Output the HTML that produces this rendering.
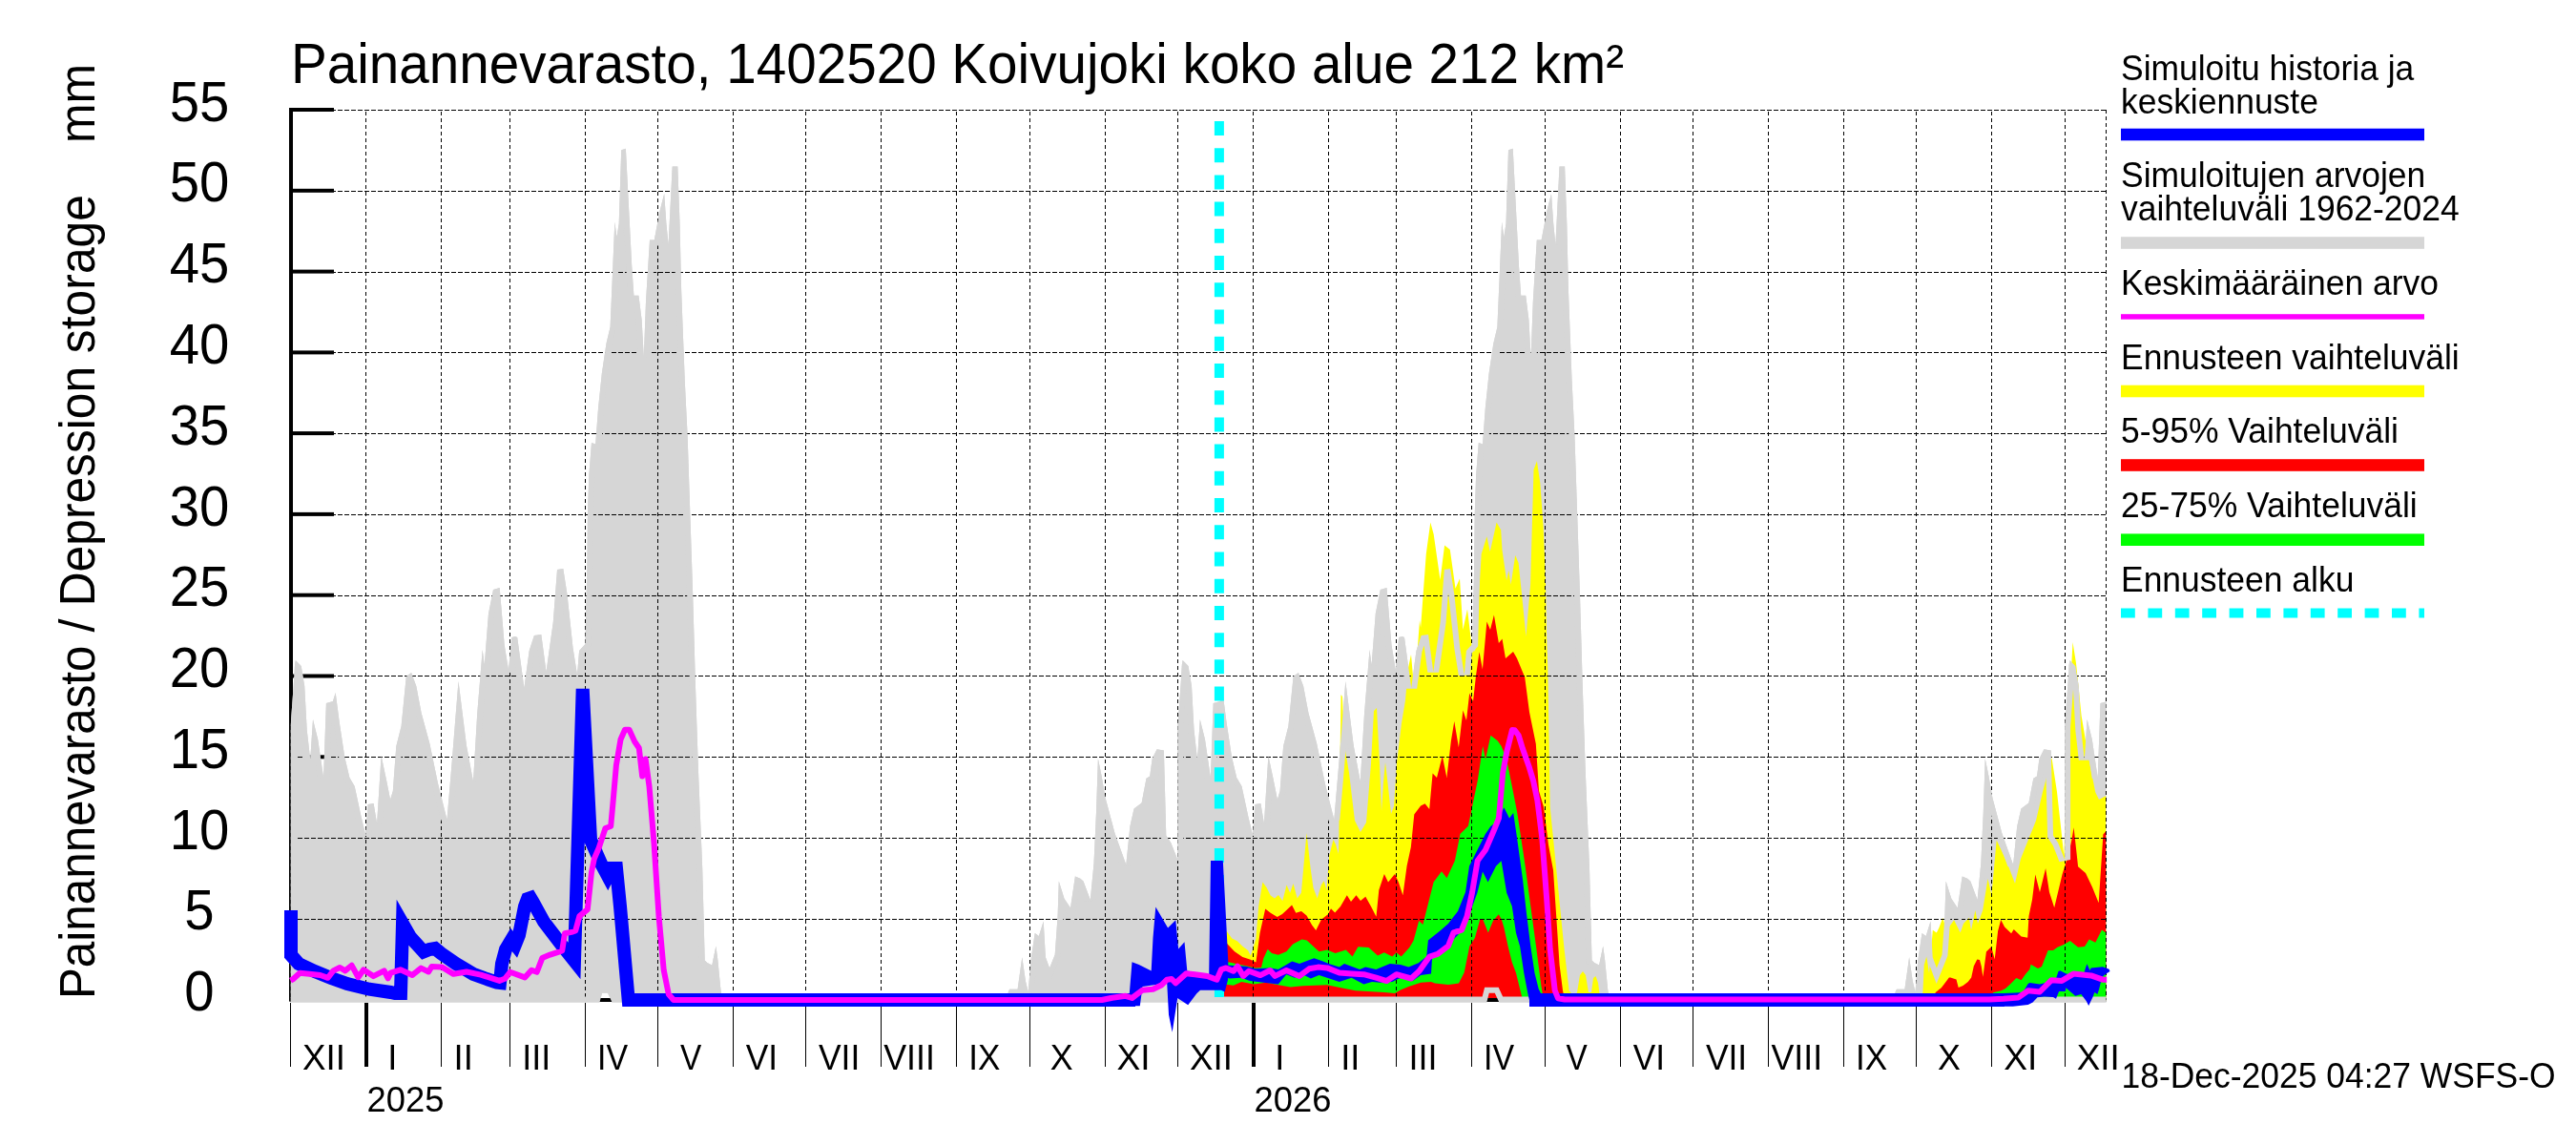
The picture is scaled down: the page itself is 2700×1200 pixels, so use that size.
<!DOCTYPE html><html><head><meta charset="utf-8"><style>html,body{margin:0;padding:0;background:#fff;overflow:hidden}svg{display:block;will-change:transform}text{font-family:"Liberation Sans",Arial,sans-serif;fill:#000}</style></head><body>
<svg width="2700" height="1200" viewBox="0 0 2700 1200">
<defs>
<clipPath id="plot"><rect x="304.5" y="100" width="1903.0" height="960"/></clipPath>
<clipPath id="gc"><polygon points="304.5,901.0 304.5,762.0 308.0,714.0 309.0,697.0 309.8,692.0 315.7,698.0 319.2,719.0 321.7,765.0 325.2,796.0 328.0,754.0 333.2,775.0 339.1,815.0 341.9,737.0 348.9,735.0 351.7,726.0 355.9,758.0 361.2,793.0 366.4,815.0 371.7,824.0 378.6,856.0 383.2,875.0 385.6,843.0 391.6,842.0 395.1,863.0 399.6,792.0 404.9,817.0 409.1,838.0 411.8,829.0 415.3,782.0 420.6,761.0 425.8,709.0 431.1,705.0 436.3,719.0 441.6,747.0 450.3,779.0 459.0,821.0 468.5,859.0 473.4,802.0 480.5,714.0 488.9,781.0 496.0,819.0 500.2,748.0 505.7,681.0 507.8,697.0 512.0,643.0 517.0,618.0 523.7,616.0 528.7,676.0 533.0,702.0 536.3,668.0 540.0,667.0 542.2,668.0 549.4,721.0 554.7,682.0 559.9,666.0 567.3,665.0 572.5,704.0 579.8,652.0 584.0,597.0 590.3,596.0 594.5,623.0 600.5,679.0 605.0,707.0 607.1,682.0 613.4,675.0 615.3,595.5 615.9,540.0 617.3,498.0 620.0,464.0 624.2,465.6 627.0,428.0 630.8,391.6 635.5,360.0 639.6,342.8 642.4,278.0 644.3,232.8 646.5,248.5 648.7,234.3 651.2,157.3 655.9,155.7 662.2,278.4 664.4,309.8 669.4,309.8 672.6,335.0 674.8,374.3 677.0,316.0 681.0,251.6 685.8,251.6 691.4,221.8 696.2,202.9 698.4,234.3 700.6,256.4 704.7,174.6 710.3,174.6 712.5,234.3 714.1,303.5 717.8,400.0 720.6,456.0 723.4,540.0 726.2,623.5 729.0,720.0 732.0,809.0 736.2,910.0 738.7,1006.6 741.3,1009.0 746.3,1011.6 750.4,991.4 752.4,1006.6 755.4,1037.0 756.5,1044.5 757.5,1050.5 1056.0,1050.5 1056.8,1039.6 1058.2,1036.8 1066.6,1036.8 1071.3,1003.2 1075.0,1028.4 1077.7,1039.6 1080.5,1006.0 1084.7,978.0 1088.9,981.0 1093.7,965.5 1095.9,1003.2 1100.1,1014.4 1105.7,1000.4 1108.6,960.0 1109.8,923.5 1115.5,941.7 1122.0,951.6 1126.9,918.6 1132.3,920.7 1135.5,923.5 1142.8,943.0 1146.5,905.0 1149.0,851.3 1150.9,795.0 1154.6,813.0 1158.7,836.6 1168.5,873.3 1180.3,906.3 1184.4,866.0 1188.6,847.6 1196.6,841.5 1201.5,815.8 1205.2,813.4 1207.7,795.0 1212.6,785.2 1219.9,786.4 1222.3,875.7 1227.2,883.1 1232.1,895.3 1234.3,901.0 1234.3,762.0 1237.8,714.0 1238.8,697.0 1239.6,692.0 1245.5,698.0 1249.0,719.0 1251.5,765.0 1255.0,796.0 1257.8,754.0 1263.0,775.0 1268.9,815.0 1271.7,737.0 1278.7,735.0 1281.5,726.0 1285.7,758.0 1291.0,793.0 1296.2,815.0 1301.5,824.0 1308.4,856.0 1313.0,875.0 1315.4,843.0 1321.4,842.0 1324.9,863.0 1329.4,792.0 1334.7,817.0 1338.9,838.0 1341.6,829.0 1345.1,782.0 1350.4,761.0 1355.6,709.0 1360.9,705.0 1366.1,719.0 1371.4,747.0 1380.1,779.0 1388.8,821.0 1398.3,859.0 1403.2,802.0 1410.3,714.0 1418.7,781.0 1425.8,819.0 1430.0,748.0 1435.5,681.0 1437.6,697.0 1441.8,643.0 1446.8,618.0 1453.5,616.0 1458.5,676.0 1462.8,702.0 1466.1,668.0 1469.8,667.0 1472.0,668.0 1479.2,721.0 1484.5,682.0 1489.7,666.0 1497.1,665.0 1502.3,704.0 1509.6,652.0 1513.8,597.0 1520.1,596.0 1524.3,623.0 1530.3,679.0 1534.8,707.0 1536.9,682.0 1543.2,675.0 1545.1,595.5 1545.7,540.0 1547.1,498.0 1549.8,464.0 1554.0,465.6 1556.8,428.0 1560.6,391.6 1565.3,360.0 1569.4,342.8 1572.2,278.0 1574.1,232.8 1576.3,248.5 1578.5,234.3 1581.0,157.3 1585.7,155.7 1592.0,278.4 1594.2,309.8 1599.2,309.8 1602.4,335.0 1604.6,374.3 1606.8,316.0 1610.8,251.6 1615.6,251.6 1621.2,221.8 1626.0,202.9 1628.2,234.3 1630.4,256.4 1634.5,174.6 1640.1,174.6 1642.3,234.3 1643.9,303.5 1647.6,400.0 1650.4,456.0 1653.2,540.0 1656.0,623.5 1658.8,720.0 1661.8,809.0 1666.0,910.0 1668.5,1006.6 1671.1,1009.0 1676.1,1011.6 1680.2,991.4 1682.2,1006.6 1685.2,1037.0 1686.3,1044.5 1687.3,1050.5 1985.8,1050.5 1986.6,1039.6 1988.0,1036.8 1996.4,1036.8 2001.1,1003.2 2004.8,1028.4 2007.5,1039.6 2010.3,1006.0 2014.5,978.0 2018.7,981.0 2023.5,965.5 2025.7,1003.2 2029.9,1014.4 2035.5,1000.4 2038.4,960.0 2039.6,923.5 2045.3,941.7 2051.8,951.6 2056.7,918.6 2062.1,920.7 2065.3,923.5 2072.6,943.0 2076.3,905.0 2078.8,851.3 2080.7,795.0 2084.4,813.0 2088.5,836.6 2098.3,873.3 2110.1,906.3 2114.2,866.0 2118.4,847.6 2126.4,841.5 2131.3,815.8 2135.0,813.4 2137.5,795.0 2142.4,785.2 2149.7,786.4 2152.1,875.7 2157.0,883.1 2161.9,895.3 2164.1,901.0 2164.1,762.0 2167.6,714.0 2168.6,697.0 2169.4,692.0 2175.3,698.0 2178.8,719.0 2181.3,765.0 2184.8,796.0 2187.6,754.0 2192.8,775.0 2198.7,815.0 2201.5,737.0 2208.5,735.0 2211.3,726.0 2215.5,758.0 2216.0,1050.5 1571.3,1050.5 1566.8,1040.7 1560.8,1040.7 1558.3,1050.5 641.5,1050.5 637.0,1040.7 631.0,1040.7 628.5,1050.5 304.5,1050.5"/></clipPath>
</defs>
<rect x="0" y="0" width="2700" height="1200" fill="#fff"/>
<rect x="303" y="113" width="4" height="935" fill="#000"/>
<rect x="303" y="1045.6" width="47" height="4" fill="#000"/>
<rect x="303" y="960.8" width="47" height="4" fill="#000"/>
<rect x="303" y="876.0" width="47" height="4" fill="#000"/>
<rect x="303" y="791.3" width="47" height="4" fill="#000"/>
<rect x="303" y="706.5" width="47" height="4" fill="#000"/>
<rect x="303" y="621.7" width="47" height="4" fill="#000"/>
<rect x="303" y="536.9" width="47" height="4" fill="#000"/>
<rect x="303" y="452.1" width="47" height="4" fill="#000"/>
<rect x="303" y="367.4" width="47" height="4" fill="#000"/>
<rect x="303" y="282.6" width="47" height="4" fill="#000"/>
<rect x="303" y="197.8" width="47" height="4" fill="#000"/>
<rect x="303" y="113.0" width="47" height="4" fill="#000"/>
<g clip-path="url(#plot)">
<polygon points="304.5,901.0 304.5,762.0 308.0,714.0 309.0,697.0 309.8,692.0 315.7,698.0 319.2,719.0 321.7,765.0 325.2,796.0 328.0,754.0 333.2,775.0 339.1,815.0 341.9,737.0 348.9,735.0 351.7,726.0 355.9,758.0 361.2,793.0 366.4,815.0 371.7,824.0 378.6,856.0 383.2,875.0 385.6,843.0 391.6,842.0 395.1,863.0 399.6,792.0 404.9,817.0 409.1,838.0 411.8,829.0 415.3,782.0 420.6,761.0 425.8,709.0 431.1,705.0 436.3,719.0 441.6,747.0 450.3,779.0 459.0,821.0 468.5,859.0 473.4,802.0 480.5,714.0 488.9,781.0 496.0,819.0 500.2,748.0 505.7,681.0 507.8,697.0 512.0,643.0 517.0,618.0 523.7,616.0 528.7,676.0 533.0,702.0 536.3,668.0 540.0,667.0 542.2,668.0 549.4,721.0 554.7,682.0 559.9,666.0 567.3,665.0 572.5,704.0 579.8,652.0 584.0,597.0 590.3,596.0 594.5,623.0 600.5,679.0 605.0,707.0 607.1,682.0 613.4,675.0 615.3,595.5 615.9,540.0 617.3,498.0 620.0,464.0 624.2,465.6 627.0,428.0 630.8,391.6 635.5,360.0 639.6,342.8 642.4,278.0 644.3,232.8 646.5,248.5 648.7,234.3 651.2,157.3 655.9,155.7 662.2,278.4 664.4,309.8 669.4,309.8 672.6,335.0 674.8,374.3 677.0,316.0 681.0,251.6 685.8,251.6 691.4,221.8 696.2,202.9 698.4,234.3 700.6,256.4 704.7,174.6 710.3,174.6 712.5,234.3 714.1,303.5 717.8,400.0 720.6,456.0 723.4,540.0 726.2,623.5 729.0,720.0 732.0,809.0 736.2,910.0 738.7,1006.6 741.3,1009.0 746.3,1011.6 750.4,991.4 752.4,1006.6 755.4,1037.0 756.5,1044.5 757.5,1050.5 1056.0,1050.5 1056.8,1039.6 1058.2,1036.8 1066.6,1036.8 1071.3,1003.2 1075.0,1028.4 1077.7,1039.6 1080.5,1006.0 1084.7,978.0 1088.9,981.0 1093.7,965.5 1095.9,1003.2 1100.1,1014.4 1105.7,1000.4 1108.6,960.0 1109.8,923.5 1115.5,941.7 1122.0,951.6 1126.9,918.6 1132.3,920.7 1135.5,923.5 1142.8,943.0 1146.5,905.0 1149.0,851.3 1150.9,795.0 1154.6,813.0 1158.7,836.6 1168.5,873.3 1180.3,906.3 1184.4,866.0 1188.6,847.6 1196.6,841.5 1201.5,815.8 1205.2,813.4 1207.7,795.0 1212.6,785.2 1219.9,786.4 1222.3,875.7 1227.2,883.1 1232.1,895.3 1234.3,901.0 1234.3,762.0 1237.8,714.0 1238.8,697.0 1239.6,692.0 1245.5,698.0 1249.0,719.0 1251.5,765.0 1255.0,796.0 1257.8,754.0 1263.0,775.0 1268.9,815.0 1271.7,737.0 1278.7,735.0 1281.5,726.0 1285.7,758.0 1291.0,793.0 1296.2,815.0 1301.5,824.0 1308.4,856.0 1313.0,875.0 1315.4,843.0 1321.4,842.0 1324.9,863.0 1329.4,792.0 1334.7,817.0 1338.9,838.0 1341.6,829.0 1345.1,782.0 1350.4,761.0 1355.6,709.0 1360.9,705.0 1366.1,719.0 1371.4,747.0 1380.1,779.0 1388.8,821.0 1398.3,859.0 1403.2,802.0 1410.3,714.0 1418.7,781.0 1425.8,819.0 1430.0,748.0 1435.5,681.0 1437.6,697.0 1441.8,643.0 1446.8,618.0 1453.5,616.0 1458.5,676.0 1462.8,702.0 1466.1,668.0 1469.8,667.0 1472.0,668.0 1479.2,721.0 1484.5,682.0 1489.7,666.0 1497.1,665.0 1502.3,704.0 1509.6,652.0 1513.8,597.0 1520.1,596.0 1524.3,623.0 1530.3,679.0 1534.8,707.0 1536.9,682.0 1543.2,675.0 1545.1,595.5 1545.7,540.0 1547.1,498.0 1549.8,464.0 1554.0,465.6 1556.8,428.0 1560.6,391.6 1565.3,360.0 1569.4,342.8 1572.2,278.0 1574.1,232.8 1576.3,248.5 1578.5,234.3 1581.0,157.3 1585.7,155.7 1592.0,278.4 1594.2,309.8 1599.2,309.8 1602.4,335.0 1604.6,374.3 1606.8,316.0 1610.8,251.6 1615.6,251.6 1621.2,221.8 1626.0,202.9 1628.2,234.3 1630.4,256.4 1634.5,174.6 1640.1,174.6 1642.3,234.3 1643.9,303.5 1647.6,400.0 1650.4,456.0 1653.2,540.0 1656.0,623.5 1658.8,720.0 1661.8,809.0 1666.0,910.0 1668.5,1006.6 1671.1,1009.0 1676.1,1011.6 1680.2,991.4 1682.2,1006.6 1685.2,1037.0 1686.3,1044.5 1687.3,1050.5 1985.8,1050.5 1986.6,1039.6 1988.0,1036.8 1996.4,1036.8 2001.1,1003.2 2004.8,1028.4 2007.5,1039.6 2010.3,1006.0 2014.5,978.0 2018.7,981.0 2023.5,965.5 2025.7,1003.2 2029.9,1014.4 2035.5,1000.4 2038.4,960.0 2039.6,923.5 2045.3,941.7 2051.8,951.6 2056.7,918.6 2062.1,920.7 2065.3,923.5 2072.6,943.0 2076.3,905.0 2078.8,851.3 2080.7,795.0 2084.4,813.0 2088.5,836.6 2098.3,873.3 2110.1,906.3 2114.2,866.0 2118.4,847.6 2126.4,841.5 2131.3,815.8 2135.0,813.4 2137.5,795.0 2142.4,785.2 2149.7,786.4 2152.1,875.7 2157.0,883.1 2161.9,895.3 2164.1,901.0 2164.1,762.0 2167.6,714.0 2168.6,697.0 2169.4,692.0 2175.3,698.0 2178.8,719.0 2181.3,765.0 2184.8,796.0 2187.6,754.0 2192.8,775.0 2198.7,815.0 2201.5,737.0 2208.5,735.0 2211.3,726.0 2215.5,758.0 2216.0,1050.5 1571.3,1050.5 1566.8,1040.7 1560.8,1040.7 1558.3,1050.5 641.5,1050.5 637.0,1040.7 631.0,1040.7 628.5,1050.5 304.5,1050.5" fill="#d6d6d6"/>
<polygon points="1283.0,974.0 1286.2,976.4 1291.2,983.4 1296.8,986.2 1302.4,991.7 1308.0,996.0 1310.8,1001.5 1313.0,995.0 1316.4,983.4 1319.2,949.8 1323.4,924.6 1327.6,930.2 1331.7,938.6 1336.0,941.4 1340.0,938.0 1344.3,944.2 1348.5,927.4 1352.2,935.8 1355.5,926.0 1359.7,941.4 1363.9,935.8 1369.5,872.9 1373.7,910.6 1376.5,930.2 1380.7,941.4 1384.9,927.4 1387.7,923.2 1390.5,933.0 1393.3,896.6 1397.5,879.9 1400.0,885.0 1403.0,895.0 1404.5,800.0 1405.5,728.0 1407.0,730.0 1409.0,780.0 1414.0,810.0 1420.0,860.0 1426.0,872.0 1432.0,862.0 1437.0,800.0 1440.0,745.0 1443.0,742.0 1446.0,800.0 1448.0,850.0 1450.0,820.0 1452.0,799.0 1455.0,825.0 1458.0,853.0 1461.0,845.0 1464.0,800.0 1469.0,758.0 1473.0,734.0 1476.0,700.0 1479.0,686.0 1482.0,720.0 1485.0,690.0 1488.0,650.0 1489.1,657.7 1494.8,580.5 1499.3,547.5 1502.7,560.0 1509.5,607.7 1514.1,571.4 1519.8,575.9 1525.5,616.8 1530.0,606.6 1533.4,660.0 1538.0,638.4 1542.5,676.0 1546.0,683.0 1548.0,660.0 1552.7,580.5 1558.4,562.3 1561.8,578.2 1568.6,547.5 1573.2,555.5 1574.5,576.4 1579.1,608.2 1581.4,598.0 1583.6,612.7 1588.2,582.0 1591.6,590.0 1596.1,633.2 1599.5,667.3 1604.1,612.7 1607.5,492.3 1610.9,483.2 1614.3,505.9 1617.7,553.6 1620.0,610.5 1621.1,667.3 1622.3,700.0 1624.7,845.7 1629.7,895.4 1634.6,945.2 1639.6,994.9 1644.6,1038.0 1650.0,1045.0 1653.0,1040.0 1656.0,1022.0 1659.0,1018.0 1662.0,1022.0 1665.0,1040.0 1668.0,1040.0 1670.0,1025.0 1672.5,1023.0 1675.0,1030.0 1677.0,1045.0 1680.0,1048.0 1680.0,1048.5 1283.0,1048.5" fill="#ffff00"/>
<polygon points="1283.0,989.0 1286.2,989.0 1294.0,997.3 1302.4,1003.0 1310.8,1005.7 1316.4,1008.5 1320.6,977.8 1326.2,952.6 1331.7,956.8 1338.7,961.0 1344.0,958.0 1349.9,952.6 1354.1,948.4 1358.3,956.8 1364.0,955.0 1369.5,959.6 1375.1,969.4 1379.3,975.0 1384.9,963.8 1391.9,958.2 1395.0,952.3 1399.2,956.5 1405.0,950.0 1411.8,938.3 1416.0,945.0 1421.5,938.3 1426.0,944.0 1431.3,939.7 1437.0,950.0 1442.5,960.7 1445.3,932.7 1450.9,916.0 1455.0,924.4 1462.0,916.0 1466.0,925.0 1470.4,938.3 1474.6,907.6 1478.8,888.0 1482.3,853.6 1489.1,844.5 1493.6,842.3 1498.2,848.0 1501.6,810.5 1506.0,815.0 1511.8,792.3 1516.4,815.0 1520.9,776.4 1524.3,756.0 1528.9,783.2 1533.4,744.5 1537.0,755.0 1540.2,726.4 1544.0,735.0 1547.0,708.2 1550.5,683.2 1553.9,701.4 1558.4,651.4 1562.0,660.0 1565.9,644.5 1570.9,674.1 1574.5,669.5 1578.0,690.0 1586.0,683.0 1590.0,690.0 1598.2,709.8 1603.0,746.3 1609.8,779.4 1613.0,829.0 1618.0,845.7 1623.0,885.5 1628.0,912.0 1631.3,961.7 1634.6,1011.5 1638.0,1038.0 1640.0,1048.0 1640.0,1048.5 1283.0,1048.5" fill="#ff0000"/>
<polygon points="1283.0,1008.0 1288.5,1008.4 1295.4,1010.1 1305.0,1012.0 1316.0,1014.4 1322.0,1014.0 1324.4,1004.2 1328.7,994.8 1333.0,999.0 1339.8,1000.7 1348.3,997.3 1355.1,989.6 1364.5,984.5 1369.7,985.4 1382.5,997.3 1391.0,995.6 1399.6,999.0 1410.7,995.6 1417.5,1002.5 1423.5,992.2 1434.6,993.1 1444.0,1001.6 1450.8,998.2 1459.3,1002.5 1463.6,998.2 1468.7,1002.5 1477.3,993.1 1481.6,985.8 1487.2,964.9 1491.4,969.0 1495.6,952.3 1502.6,924.4 1511.0,913.2 1516.5,920.2 1524.9,902.0 1530.5,874.1 1538.9,865.7 1548.7,818.2 1554.2,781.9 1557.0,795.9 1562.4,770.8 1569.6,776.3 1573.6,782.0 1579.2,796.0 1584.8,823.9 1590.3,851.9 1598.7,907.8 1604.3,949.8 1610.0,991.7 1615.5,1033.7 1618.0,1048.0 1596.0,1048.0 1593.1,1036.5 1589.0,1019.7 1584.8,1008.5 1580.6,991.7 1576.4,972.2 1573.8,963.5 1570.8,958.2 1565.0,965.0 1559.8,977.4 1554.2,963.5 1551.2,963.8 1545.9,983.0 1540.3,991.4 1534.7,1019.3 1529.0,1030.5 1518.0,1032.0 1504.0,1030.5 1500.0,1028.9 1489.2,1029.8 1476.4,1034.0 1467.9,1037.5 1461.9,1040.9 1450.8,1040.0 1438.0,1039.2 1420.9,1038.3 1408.1,1035.8 1391.0,1032.3 1365.4,1033.2 1352.6,1034.5 1339.8,1032.3 1327.0,1029.8 1314.2,1031.5 1301.3,1028.9 1292.8,1032.8 1283.0,1031.5" fill="#00ff00"/>
<polygon points="2012.0,1048.0 2015.4,1040.3 2016.7,1011.5 2019.3,1002.3 2022.0,1020.0 2025.8,974.8 2029.8,977.4 2032.4,972.2 2036.3,961.7 2040.0,975.0 2044.0,970.0 2048.1,964.3 2054.7,977.4 2058.0,968.0 2063.8,961.7 2066.0,975.0 2070.4,953.9 2073.0,968.0 2078.2,953.9 2083.5,921.1 2087.4,938.1 2092.7,880.5 2100.0,896.2 2104.0,905.0 2112.0,926.0 2118.0,900.0 2126.0,880.0 2134.0,860.0 2141.0,830.0 2150.5,794.0 2156.0,830.0 2163.3,896.6 2168.0,760.0 2172.5,673.0 2176.0,695.0 2181.6,750.0 2189.0,794.0 2196.3,830.6 2200.0,838.0 2207.5,834.0 2207.5,1048.5 2012.0,1048.5" fill="#ffff00"/>
<polygon points="2028.5,1048.0 2028.5,1040.3 2035.0,1035.0 2042.9,1024.6 2044.4,1024.6 2050.5,1026.4 2052.7,1035.1 2057.5,1032.9 2062.7,1029.0 2066.2,1024.6 2068.8,1012.4 2072.3,1005.4 2075.0,1006.0 2076.7,1012.4 2078.4,1023.8 2081.9,997.6 2087.2,992.3 2090.7,1005.4 2094.1,975.7 2097.2,963.9 2101.1,971.4 2108.1,978.3 2110.7,974.0 2118.6,981.4 2125.2,982.7 2126.5,960.0 2130.0,943.0 2133.3,916.5 2138.0,935.0 2144.1,909.9 2148.0,935.0 2153.2,951.3 2161.5,916.5 2168.1,894.9 2171.5,880.0 2173.6,867.3 2178.1,908.2 2186.0,915.0 2193.0,929.8 2199.7,946.3 2204.4,874.6 2207.5,871.0 2207.5,1048.5 2028.5,1048.5" fill="#ff0000"/>
<polygon points="2088.9,1048.0 2088.9,1040.3 2097.6,1038.2 2102.0,1036.0 2107.2,1031.2 2113.4,1025.1 2118.6,1027.2 2123.0,1021.1 2127.3,1015.9 2128.6,1010.7 2136.1,1015.0 2140.0,1013.0 2146.6,996.0 2152.0,996.0 2156.5,992.8 2163.0,990.0 2169.8,986.1 2178.1,992.8 2185.0,992.0 2189.7,984.5 2196.3,987.8 2203.0,974.5 2207.5,977.8 2207.5,1048.5 2088.9,1048.5" fill="#00ff00"/>
<rect x="304" y="1046" width="1903.5" height="4" fill="#000"/>
</g>
<g><line x1="305" y1="1048.5" x2="2207.5" y2="1048.5" stroke="#000" stroke-width="1" stroke-dasharray="5,2"/><line x1="305" y1="963.5" x2="2207.5" y2="963.5" stroke="#000" stroke-width="1" stroke-dasharray="5,2"/><line x1="305" y1="878.5" x2="2207.5" y2="878.5" stroke="#000" stroke-width="1" stroke-dasharray="5,2"/><line x1="305" y1="793.5" x2="2207.5" y2="793.5" stroke="#000" stroke-width="1" stroke-dasharray="5,2"/><line x1="305" y1="708.5" x2="2207.5" y2="708.5" stroke="#000" stroke-width="1" stroke-dasharray="5,2"/><line x1="305" y1="624.5" x2="2207.5" y2="624.5" stroke="#000" stroke-width="1" stroke-dasharray="5,2"/><line x1="305" y1="539.5" x2="2207.5" y2="539.5" stroke="#000" stroke-width="1" stroke-dasharray="5,2"/><line x1="305" y1="454.5" x2="2207.5" y2="454.5" stroke="#000" stroke-width="1" stroke-dasharray="5,2"/><line x1="305" y1="369.5" x2="2207.5" y2="369.5" stroke="#000" stroke-width="1" stroke-dasharray="5,2"/><line x1="305" y1="285.5" x2="2207.5" y2="285.5" stroke="#000" stroke-width="1" stroke-dasharray="5,2"/><line x1="305" y1="200.5" x2="2207.5" y2="200.5" stroke="#000" stroke-width="1" stroke-dasharray="5,2"/><line x1="305" y1="115.5" x2="2207.5" y2="115.5" stroke="#000" stroke-width="1" stroke-dasharray="5,2"/><line x1="304.5" y1="117" x2="304.5" y2="1048" stroke="#000" stroke-width="1" stroke-dasharray="4,3"/><line x1="383.5" y1="117" x2="383.5" y2="1048" stroke="#000" stroke-width="1" stroke-dasharray="4,3"/><line x1="462.5" y1="117" x2="462.5" y2="1048" stroke="#000" stroke-width="1" stroke-dasharray="4,3"/><line x1="534.5" y1="117" x2="534.5" y2="1048" stroke="#000" stroke-width="1" stroke-dasharray="4,3"/><line x1="613.5" y1="117" x2="613.5" y2="1048" stroke="#000" stroke-width="1" stroke-dasharray="4,3"/><line x1="689.5" y1="117" x2="689.5" y2="1048" stroke="#000" stroke-width="1" stroke-dasharray="4,3"/><line x1="768.5" y1="117" x2="768.5" y2="1048" stroke="#000" stroke-width="1" stroke-dasharray="4,3"/><line x1="844.5" y1="117" x2="844.5" y2="1048" stroke="#000" stroke-width="1" stroke-dasharray="4,3"/><line x1="923.5" y1="117" x2="923.5" y2="1048" stroke="#000" stroke-width="1" stroke-dasharray="4,3"/><line x1="1002.5" y1="117" x2="1002.5" y2="1048" stroke="#000" stroke-width="1" stroke-dasharray="4,3"/><line x1="1079.5" y1="117" x2="1079.5" y2="1048" stroke="#000" stroke-width="1" stroke-dasharray="4,3"/><line x1="1158.5" y1="117" x2="1158.5" y2="1048" stroke="#000" stroke-width="1" stroke-dasharray="4,3"/><line x1="1234.5" y1="117" x2="1234.5" y2="1048" stroke="#000" stroke-width="1" stroke-dasharray="4,3"/><line x1="1313.5" y1="117" x2="1313.5" y2="1048" stroke="#000" stroke-width="1" stroke-dasharray="4,3"/><line x1="1392.5" y1="117" x2="1392.5" y2="1048" stroke="#000" stroke-width="1" stroke-dasharray="4,3"/><line x1="1463.5" y1="117" x2="1463.5" y2="1048" stroke="#000" stroke-width="1" stroke-dasharray="4,3"/><line x1="1542.5" y1="117" x2="1542.5" y2="1048" stroke="#000" stroke-width="1" stroke-dasharray="4,3"/><line x1="1619.5" y1="117" x2="1619.5" y2="1048" stroke="#000" stroke-width="1" stroke-dasharray="4,3"/><line x1="1698.5" y1="117" x2="1698.5" y2="1048" stroke="#000" stroke-width="1" stroke-dasharray="4,3"/><line x1="1774.5" y1="117" x2="1774.5" y2="1048" stroke="#000" stroke-width="1" stroke-dasharray="4,3"/><line x1="1853.5" y1="117" x2="1853.5" y2="1048" stroke="#000" stroke-width="1" stroke-dasharray="4,3"/><line x1="1932.5" y1="117" x2="1932.5" y2="1048" stroke="#000" stroke-width="1" stroke-dasharray="4,3"/><line x1="2008.5" y1="117" x2="2008.5" y2="1048" stroke="#000" stroke-width="1" stroke-dasharray="4,3"/><line x1="2087.5" y1="117" x2="2087.5" y2="1048" stroke="#000" stroke-width="1" stroke-dasharray="4,3"/><line x1="2164.5" y1="117" x2="2164.5" y2="1048" stroke="#000" stroke-width="1" stroke-dasharray="4,3"/><line x1="2207.5" y1="115" x2="2207.5" y2="1048" stroke="#000" stroke-width="1" stroke-dasharray="4,3"/></g>
<g clip-path="url(#plot)"><g clip-path="url(#gc)"><polygon points="304.5,901.0 304.5,762.0 308.0,714.0 309.0,697.0 309.8,692.0 315.7,698.0 319.2,719.0 321.7,765.0 325.2,796.0 328.0,754.0 333.2,775.0 339.1,815.0 341.9,737.0 348.9,735.0 351.7,726.0 355.9,758.0 361.2,793.0 366.4,815.0 371.7,824.0 378.6,856.0 383.2,875.0 385.6,843.0 391.6,842.0 395.1,863.0 399.6,792.0 404.9,817.0 409.1,838.0 411.8,829.0 415.3,782.0 420.6,761.0 425.8,709.0 431.1,705.0 436.3,719.0 441.6,747.0 450.3,779.0 459.0,821.0 468.5,859.0 473.4,802.0 480.5,714.0 488.9,781.0 496.0,819.0 500.2,748.0 505.7,681.0 507.8,697.0 512.0,643.0 517.0,618.0 523.7,616.0 528.7,676.0 533.0,702.0 536.3,668.0 540.0,667.0 542.2,668.0 549.4,721.0 554.7,682.0 559.9,666.0 567.3,665.0 572.5,704.0 579.8,652.0 584.0,597.0 590.3,596.0 594.5,623.0 600.5,679.0 605.0,707.0 607.1,682.0 613.4,675.0 615.3,595.5 615.9,540.0 617.3,498.0 620.0,464.0 624.2,465.6 627.0,428.0 630.8,391.6 635.5,360.0 639.6,342.8 642.4,278.0 644.3,232.8 646.5,248.5 648.7,234.3 651.2,157.3 655.9,155.7 662.2,278.4 664.4,309.8 669.4,309.8 672.6,335.0 674.8,374.3 677.0,316.0 681.0,251.6 685.8,251.6 691.4,221.8 696.2,202.9 698.4,234.3 700.6,256.4 704.7,174.6 710.3,174.6 712.5,234.3 714.1,303.5 717.8,400.0 720.6,456.0 723.4,540.0 726.2,623.5 729.0,720.0 732.0,809.0 736.2,910.0 738.7,1006.6 741.3,1009.0 746.3,1011.6 750.4,991.4 752.4,1006.6 755.4,1037.0 756.5,1044.5 757.5,1050.5 1056.0,1050.5 1056.8,1039.6 1058.2,1036.8 1066.6,1036.8 1071.3,1003.2 1075.0,1028.4 1077.7,1039.6 1080.5,1006.0 1084.7,978.0 1088.9,981.0 1093.7,965.5 1095.9,1003.2 1100.1,1014.4 1105.7,1000.4 1108.6,960.0 1109.8,923.5 1115.5,941.7 1122.0,951.6 1126.9,918.6 1132.3,920.7 1135.5,923.5 1142.8,943.0 1146.5,905.0 1149.0,851.3 1150.9,795.0 1154.6,813.0 1158.7,836.6 1168.5,873.3 1180.3,906.3 1184.4,866.0 1188.6,847.6 1196.6,841.5 1201.5,815.8 1205.2,813.4 1207.7,795.0 1212.6,785.2 1219.9,786.4 1222.3,875.7 1227.2,883.1 1232.1,895.3 1234.3,901.0 1234.3,762.0 1237.8,714.0 1238.8,697.0 1239.6,692.0 1245.5,698.0 1249.0,719.0 1251.5,765.0 1255.0,796.0 1257.8,754.0 1263.0,775.0 1268.9,815.0 1271.7,737.0 1278.7,735.0 1281.5,726.0 1285.7,758.0 1291.0,793.0 1296.2,815.0 1301.5,824.0 1308.4,856.0 1313.0,875.0 1315.4,843.0 1321.4,842.0 1324.9,863.0 1329.4,792.0 1334.7,817.0 1338.9,838.0 1341.6,829.0 1345.1,782.0 1350.4,761.0 1355.6,709.0 1360.9,705.0 1366.1,719.0 1371.4,747.0 1380.1,779.0 1388.8,821.0 1398.3,859.0 1403.2,802.0 1410.3,714.0 1418.7,781.0 1425.8,819.0 1430.0,748.0 1435.5,681.0 1437.6,697.0 1441.8,643.0 1446.8,618.0 1453.5,616.0 1458.5,676.0 1462.8,702.0 1466.1,668.0 1469.8,667.0 1472.0,668.0 1479.2,721.0 1484.5,682.0 1489.7,666.0 1497.1,665.0 1502.3,704.0 1509.6,652.0 1513.8,597.0 1520.1,596.0 1524.3,623.0 1530.3,679.0 1534.8,707.0 1536.9,682.0 1543.2,675.0 1545.1,595.5 1545.7,540.0 1547.1,498.0 1549.8,464.0 1554.0,465.6 1556.8,428.0 1560.6,391.6 1565.3,360.0 1569.4,342.8 1572.2,278.0 1574.1,232.8 1576.3,248.5 1578.5,234.3 1581.0,157.3 1585.7,155.7 1592.0,278.4 1594.2,309.8 1599.2,309.8 1602.4,335.0 1604.6,374.3 1606.8,316.0 1610.8,251.6 1615.6,251.6 1621.2,221.8 1626.0,202.9 1628.2,234.3 1630.4,256.4 1634.5,174.6 1640.1,174.6 1642.3,234.3 1643.9,303.5 1647.6,400.0 1650.4,456.0 1653.2,540.0 1656.0,623.5 1658.8,720.0 1661.8,809.0 1666.0,910.0 1668.5,1006.6 1671.1,1009.0 1676.1,1011.6 1680.2,991.4 1682.2,1006.6 1685.2,1037.0 1686.3,1044.5 1687.3,1050.5 1985.8,1050.5 1986.6,1039.6 1988.0,1036.8 1996.4,1036.8 2001.1,1003.2 2004.8,1028.4 2007.5,1039.6 2010.3,1006.0 2014.5,978.0 2018.7,981.0 2023.5,965.5 2025.7,1003.2 2029.9,1014.4 2035.5,1000.4 2038.4,960.0 2039.6,923.5 2045.3,941.7 2051.8,951.6 2056.7,918.6 2062.1,920.7 2065.3,923.5 2072.6,943.0 2076.3,905.0 2078.8,851.3 2080.7,795.0 2084.4,813.0 2088.5,836.6 2098.3,873.3 2110.1,906.3 2114.2,866.0 2118.4,847.6 2126.4,841.5 2131.3,815.8 2135.0,813.4 2137.5,795.0 2142.4,785.2 2149.7,786.4 2152.1,875.7 2157.0,883.1 2161.9,895.3 2164.1,901.0 2164.1,762.0 2167.6,714.0 2168.6,697.0 2169.4,692.0 2175.3,698.0 2178.8,719.0 2181.3,765.0 2184.8,796.0 2187.6,754.0 2192.8,775.0 2198.7,815.0 2201.5,737.0 2208.5,735.0 2211.3,726.0 2215.5,758.0 2216.0,1050.5 1571.3,1050.5 1566.8,1040.7 1560.8,1040.7 1558.3,1050.5 641.5,1050.5 637.0,1040.7 631.0,1040.7 628.5,1050.5 304.5,1050.5" fill="none" stroke="#d6d6d6" stroke-width="12" stroke-linejoin="miter"/></g></g>
<rect x="304" y="1051" width="1" height="67" fill="#000"/>
<rect x="382" y="1051" width="4" height="67" fill="#000"/>
<rect x="462" y="1051" width="1" height="67" fill="#000"/>
<rect x="534" y="1051" width="1" height="67" fill="#000"/>
<rect x="613" y="1051" width="1" height="67" fill="#000"/>
<rect x="689" y="1051" width="1" height="67" fill="#000"/>
<rect x="768" y="1051" width="1" height="67" fill="#000"/>
<rect x="844" y="1051" width="1" height="67" fill="#000"/>
<rect x="923" y="1051" width="1" height="67" fill="#000"/>
<rect x="1002" y="1051" width="1" height="67" fill="#000"/>
<rect x="1079" y="1051" width="1" height="67" fill="#000"/>
<rect x="1158" y="1051" width="1" height="67" fill="#000"/>
<rect x="1234" y="1051" width="1" height="67" fill="#000"/>
<rect x="1312" y="1051" width="4" height="67" fill="#000"/>
<rect x="1392" y="1051" width="1" height="67" fill="#000"/>
<rect x="1463" y="1051" width="1" height="67" fill="#000"/>
<rect x="1542" y="1051" width="1" height="67" fill="#000"/>
<rect x="1619" y="1051" width="1" height="67" fill="#000"/>
<rect x="1698" y="1051" width="1" height="67" fill="#000"/>
<rect x="1774" y="1051" width="1" height="67" fill="#000"/>
<rect x="1853" y="1051" width="1" height="67" fill="#000"/>
<rect x="1932" y="1051" width="1" height="67" fill="#000"/>
<rect x="2008" y="1051" width="1" height="67" fill="#000"/>
<rect x="2087" y="1051" width="1" height="67" fill="#000"/>
<rect x="2164" y="1051" width="1" height="67" fill="#000"/>
<line x1="1277.9" y1="1045" x2="1277.9" y2="127" stroke="#00ffff" stroke-width="10" stroke-dasharray="15,13.22" stroke-dashoffset="0"/>
<polyline points="305.0,954.0 305.0,1001.0 313.0,1010.0 330.0,1018.0 347.0,1025.0 364.0,1031.0 387.0,1036.7 409.5,1040.0 414.0,1041.0 420.0,1041.0 422.0,968.0 430.0,982.0 444.0,997.5 450.0,995.0 456.0,994.0 462.0,999.0 478.0,1010.0 496.0,1020.8 510.0,1026.0 520.7,1029.6 524.0,1030.0 526.0,1010.0 530.0,995.0 536.0,985.0 540.0,990.0 544.0,980.0 547.0,965.0 550.0,950.0 553.0,942.0 556.0,941.0 559.0,946.0 570.0,966.0 588.0,989.5 602.0,1007.0 610.7,722.0 619.0,880.0 630.0,905.0 637.0,918.0 641.0,910.0 646.0,910.0 650.0,950.0 658.7,1048.0 1190.0,1048.0" fill="none" stroke="#0000ff" stroke-width="14" stroke-linejoin="miter" stroke-miterlimit="12"/>
<polygon points="1183.8,1041.3 1186.5,1008.3 1193.8,1011.1 1206.7,1017.5 1208.5,982.7 1211.3,950.6 1224.1,972.6 1232.3,964.3 1235.1,994.6 1241.5,987.3 1244.3,1017.5 1254.3,1019.3 1267.2,1021.2 1269.0,902.0 1281.8,902.0 1285.5,971.7 1287.3,1008.3 1287.0,1027.0 1283.7,1039.5 1280.0,1037.7 1258.0,1037.7 1254.3,1041.3 1245.2,1053.3 1234.2,1045.9 1228.7,1081.7 1225.0,1063.4 1223.2,1030.3 1197.5,1034.0 1194.8,1054.2 1183.8,1054.2" fill="#0000ff"/>
<polygon points="1283.0,1011.0 1288.5,1011.8 1305.6,1012.7 1315.9,1015.3 1331.2,1014.4 1339.8,1016.1 1354.3,1007.6 1362.0,1010.1 1370.5,1006.7 1377.4,1004.2 1386.7,1007.6 1392.7,1010.1 1403.8,1013.6 1409.0,1010.1 1425.2,1016.1 1431.2,1013.6 1442.3,1016.1 1456.8,1010.1 1467.9,1011.0 1476.4,1013.6 1486.7,1009.3 1495.2,1002.5 1496.9,985.4 1510.0,975.0 1518.0,968.0 1528.0,955.0 1536.0,935.0 1540.0,907.8 1548.4,891.0 1556.8,874.3 1562.4,865.9 1568.0,862.0 1573.6,851.9 1576.4,846.3 1582.0,857.5 1586.2,851.9 1590.3,879.9 1596.0,921.8 1600.1,958.2 1604.3,991.7 1608.5,1019.7 1612.7,1036.5 1615.0,1041.0 1603.0,1048.0 1601.5,1042.0 1597.3,1019.7 1593.1,991.7 1589.0,977.8 1584.8,949.8 1579.2,935.8 1576.4,919.0 1573.6,902.2 1568.0,907.8 1559.6,924.6 1554.0,913.4 1548.4,935.8 1540.0,958.2 1536.0,968.0 1528.0,980.0 1518.0,990.0 1510.0,995.0 1501.0,1005.0 1500.0,1020.4 1489.2,1022.1 1480.7,1028.1 1467.9,1024.7 1459.3,1028.9 1446.5,1029.8 1438.0,1028.9 1429.4,1031.5 1416.6,1024.7 1403.8,1028.9 1391.0,1024.7 1382.5,1022.1 1373.9,1025.5 1365.4,1021.2 1356.9,1024.7 1348.3,1021.2 1339.8,1031.5 1324.4,1029.8 1309.9,1028.1 1301.3,1024.7 1288.5,1025.5 1283.0,1023.0" fill="#0000ff"/>
<polyline points="1603.0,1048.0 2087.0,1048.0 2101.0,1048.0" fill="none" stroke="#0000ff" stroke-width="14"/>
<polygon points="2100.0,1041.0 2112.8,1040.4 2120.2,1040.1 2125.7,1031.0 2127.5,1030.0 2137.9,1031.6 2147.7,1029.1 2155.0,1025.5 2157.5,1018.1 2159.3,1017.2 2164.8,1020.0 2169.1,1021.8 2178.0,1020.0 2184.4,1019.3 2187.4,1010.2 2190.5,1016.9 2191.7,1014.4 2203.9,1013.2 2210.6,1015.7 2211.5,1018.0 2207.6,1020.6 2203.0,1024.0 2201.8,1029.7 2200.2,1036.5 2198.4,1042.0 2195.4,1040.1 2193.5,1045.0 2189.2,1053.9 2186.8,1049.3 2181.3,1042.0 2175.2,1043.8 2165.4,1035.2 2164.8,1038.9 2158.1,1038.9 2155.0,1046.8 2152.0,1045.0 2142.8,1044.4 2135.5,1045.3 2130.6,1050.5 2125.7,1053.0 2109.8,1054.8 2100.0,1054.8" fill="#0000ff"/>
<polyline points="304.5,1027.6 307.4,1026.0 314.2,1019.7 324.4,1020.8 335.7,1022.0 343.7,1024.8 349.3,1017.4 356.2,1014.0 361.8,1017.4 368.6,1011.7 375.5,1024.2 381.1,1016.3 391.3,1023.1 402.7,1017.4 406.7,1025.3 409.5,1019.7 419.7,1016.3 432.2,1021.9 441.3,1014.6 449.2,1018.5 452.6,1012.9 462.9,1013.4 475.3,1020.8 489.0,1018.5 504.0,1021.6 523.5,1027.9 529.1,1025.8 534.7,1018.8 550.1,1024.4 557.1,1016.7 562.7,1018.8 568.3,1004.1 576.6,1000.6 585.0,997.8 589.2,996.4 592.0,978.3 599.0,976.9 603.2,975.5 607.4,960.1 615.8,953.1 620.0,914.0 622.8,900.0 627.7,888.6 634.5,868.0 640.2,866.0 642.5,841.0 645.9,802.0 650.5,775.0 655.0,764.8 659.5,764.8 665.2,777.3 669.8,784.0 673.2,813.6 676.6,795.5 680.5,824.0 685.6,885.0 690.6,961.0 695.7,1016.7 700.8,1042.0 706.0,1048.0 1155.0,1048.0 1165.8,1045.7 1179.8,1043.8 1186.5,1046.0 1197.5,1037.7 1208.5,1036.8 1217.7,1032.2 1223.2,1026.7 1228.0,1026.0 1232.3,1030.3 1243.3,1020.3 1252.5,1021.2 1265.3,1023.0 1275.4,1026.7 1280.0,1016.1 1285.1,1014.4 1292.8,1017.8 1297.1,1012.7 1303.1,1022.9 1309.0,1017.8 1321.0,1022.1 1331.2,1017.0 1336.4,1022.9 1348.3,1017.0 1362.0,1022.9 1372.2,1015.3 1381.6,1013.6 1391.0,1014.4 1403.8,1019.5 1416.6,1020.4 1429.4,1021.2 1442.3,1024.7 1453.4,1028.1 1463.6,1021.2 1479.0,1025.5 1487.5,1017.8 1493.5,1009.3 1498.4,1002.6 1506.8,999.8 1518.0,991.4 1523.5,977.4 1532.0,974.6 1537.5,960.7 1543.0,935.5 1548.7,902.0 1557.0,890.8 1565.4,871.3 1571.0,857.3 1575.2,809.8 1579.4,787.5 1585.0,765.1 1587.6,765.2 1591.7,770.8 1596.0,784.8 1602.9,804.3 1607.1,818.3 1611.4,839.0 1616.4,878.9 1621.4,945.2 1624.7,994.9 1629.7,1038.0 1633.0,1046.2 1640.0,1047.5 2085.0,1047.5 2100.0,1046.8 2115.3,1045.6 2125.7,1038.3 2137.9,1039.5 2150.1,1027.3 2161.1,1027.9 2173.3,1020.6 2191.7,1022.4 2203.9,1026.7 2208.2,1026.7" fill="none" stroke="#ff00ff" stroke-width="6" stroke-linejoin="round"/>
<text x="317.0" y="1121" font-size="37.5" transform="translate(317.0,0) scale(0.98,1) translate(-317.0,0)">XII</text>
<text x="406.3" y="1121" font-size="37.5" transform="translate(406.3,0) scale(0.97,1) translate(-406.3,0)">I</text>
<text x="475.6" y="1121" font-size="37.5" transform="translate(475.6,0) scale(0.975,1) translate(-475.6,0)">II</text>
<text x="547.3" y="1121" font-size="37.5" transform="translate(547.3,0) scale(0.962,1) translate(-547.3,0)">III</text>
<text x="626.1" y="1121" font-size="37.5" transform="translate(626.1,0) scale(0.905,1) translate(-626.1,0)">IV</text>
<text x="713.1" y="1121" font-size="37.5" transform="translate(713.1,0) scale(0.89,1) translate(-713.1,0)">V</text>
<text x="781.8" y="1121" font-size="37.5" transform="translate(781.8,0) scale(0.94,1) translate(-781.8,0)">VI</text>
<text x="858.0" y="1121" font-size="37.5" transform="translate(858.0,0) scale(0.945,1) translate(-858.0,0)">VII</text>
<text x="926.2" y="1121" font-size="37.5" transform="translate(926.2,0) scale(0.955,1) translate(-926.2,0)">VIII</text>
<text x="1015.3" y="1121" font-size="37.5" transform="translate(1015.3,0) scale(0.935,1) translate(-1015.3,0)">IX</text>
<text x="1100.8" y="1121" font-size="37.5" transform="translate(1100.8,0) scale(0.955,1) translate(-1100.8,0)">X</text>
<text x="1170.5" y="1121" font-size="37.5" transform="translate(1170.5,0) scale(0.99,1) translate(-1170.5,0)">XI</text>
<text x="1247.0" y="1121" font-size="37.5" transform="translate(1247.0,0) scale(0.98,1) translate(-1247.0,0)">XII</text>
<text x="1336.3" y="1121" font-size="37.5" transform="translate(1336.3,0) scale(0.97,1) translate(-1336.3,0)">I</text>
<text x="1405.2" y="1121" font-size="37.5" transform="translate(1405.2,0) scale(0.975,1) translate(-1405.2,0)">II</text>
<text x="1476.4" y="1121" font-size="37.5" transform="translate(1476.4,0) scale(0.962,1) translate(-1476.4,0)">III</text>
<text x="1555.0" y="1121" font-size="37.5" transform="translate(1555.0,0) scale(0.905,1) translate(-1555.0,0)">IV</text>
<text x="1641.6" y="1121" font-size="37.5" transform="translate(1641.6,0) scale(0.89,1) translate(-1641.6,0)">V</text>
<text x="1711.8" y="1121" font-size="37.5" transform="translate(1711.8,0) scale(0.94,1) translate(-1711.8,0)">VI</text>
<text x="1787.9" y="1121" font-size="37.5" transform="translate(1787.9,0) scale(0.945,1) translate(-1787.9,0)">VII</text>
<text x="1856.5" y="1121" font-size="37.5" transform="translate(1856.5,0) scale(0.955,1) translate(-1856.5,0)">VIII</text>
<text x="1945.0" y="1121" font-size="37.5" transform="translate(1945.0,0) scale(0.935,1) translate(-1945.0,0)">IX</text>
<text x="2031.0" y="1121" font-size="37.5" transform="translate(2031.0,0) scale(0.955,1) translate(-2031.0,0)">X</text>
<text x="2100.2" y="1121" font-size="37.5" transform="translate(2100.2,0) scale(0.99,1) translate(-2100.2,0)">XI</text>
<text x="2176.7" y="1121" font-size="37.5" transform="translate(2176.7,0) scale(0.98,1) translate(-2176.7,0)">XII</text>
<text x="384.6" y="1165.5" font-size="37.5" transform="translate(384.6,0) scale(0.97,1) translate(-384.6,0)">2025</text>
<text x="1314.6" y="1165.5" font-size="37.5" transform="translate(1314.6,0) scale(0.97,1) translate(-1314.6,0)">2026</text>
<text x="209" y="1059.3" font-size="58.3" text-anchor="middle" transform="translate(209,0) scale(0.966,1) translate(-209,0)">0</text>
<text x="209" y="974.5" font-size="58.3" text-anchor="middle" transform="translate(209,0) scale(0.966,1) translate(-209,0)">5</text>
<text x="209" y="889.7" font-size="58.3" text-anchor="middle" transform="translate(209,0) scale(0.966,1) translate(-209,0)">10</text>
<text x="209" y="805.0" font-size="58.3" text-anchor="middle" transform="translate(209,0) scale(0.966,1) translate(-209,0)">15</text>
<text x="209" y="720.2" font-size="58.3" text-anchor="middle" transform="translate(209,0) scale(0.966,1) translate(-209,0)">20</text>
<text x="209" y="635.4" font-size="58.3" text-anchor="middle" transform="translate(209,0) scale(0.966,1) translate(-209,0)">25</text>
<text x="209" y="550.6" font-size="58.3" text-anchor="middle" transform="translate(209,0) scale(0.966,1) translate(-209,0)">30</text>
<text x="209" y="465.8" font-size="58.3" text-anchor="middle" transform="translate(209,0) scale(0.966,1) translate(-209,0)">35</text>
<text x="209" y="381.1" font-size="58.3" text-anchor="middle" transform="translate(209,0) scale(0.966,1) translate(-209,0)">40</text>
<text x="209" y="296.3" font-size="58.3" text-anchor="middle" transform="translate(209,0) scale(0.966,1) translate(-209,0)">45</text>
<text x="209" y="211.5" font-size="58.3" text-anchor="middle" transform="translate(209,0) scale(0.966,1) translate(-209,0)">50</text>
<text x="209" y="126.7" font-size="58.3" text-anchor="middle" transform="translate(209,0) scale(0.966,1) translate(-209,0)">55</text>
<text x="305" y="87" font-size="58.3" transform="translate(305,0) scale(0.971,1) translate(-305,0)">Painannevarasto, 1402520 Koivujoki koko alue 212 km²</text>
<g transform="translate(99,0) rotate(-90)">
<text x="-1047.1" y="0" font-size="51" textLength="370.6" lengthAdjust="spacingAndGlyphs">Painannevarasto</text>
<text x="-662.6" y="0" font-size="51" textLength="14.0" lengthAdjust="spacingAndGlyphs">/</text>
<text x="-635.3" y="0" font-size="51" textLength="251.4" lengthAdjust="spacingAndGlyphs">Depression</text>
<text x="-370.2" y="0" font-size="51" textLength="166.2" lengthAdjust="spacingAndGlyphs">storage</text>
<text x="-150.0" y="0" font-size="51" textLength="83.2" lengthAdjust="spacingAndGlyphs">mm</text>
</g>
<text x="2223" y="84" font-size="36" transform="translate(2223,0) scale(0.985,1) translate(-2223,0)">Simuloitu historia ja</text>
<text x="2223" y="118.8" font-size="36" transform="translate(2223,0) scale(0.985,1) translate(-2223,0)">keskiennuste</text>
<rect x="2223" y="134.7" width="318" height="12.6" fill="#0000ff"/>
<text x="2223" y="196" font-size="36" transform="translate(2223,0) scale(0.985,1) translate(-2223,0)">Simuloitujen arvojen</text>
<text x="2223" y="231.2" font-size="36" transform="translate(2223,0) scale(0.985,1) translate(-2223,0)">vaihteluväli 1962-2024</text>
<rect x="2223" y="248.2" width="318" height="12.6" fill="#d6d6d6"/>
<text x="2223" y="309" font-size="36" transform="translate(2223,0) scale(0.985,1) translate(-2223,0)">Keskimääräinen arvo</text>
<rect x="2223" y="329.2" width="318" height="5.5" fill="#ff00ff"/>
<text x="2223" y="387.5" font-size="36" transform="translate(2223,0) scale(0.985,1) translate(-2223,0)">Ennusteen vaihteluväli</text>
<rect x="2223" y="403.7" width="318" height="12.6" fill="#ffff00"/>
<text x="2223" y="464.4" font-size="36" transform="translate(2223,0) scale(0.985,1) translate(-2223,0)">5-95% Vaihteluväli</text>
<rect x="2223" y="481.2" width="318" height="12.6" fill="#ff0000"/>
<text x="2223" y="542.1" font-size="36" transform="translate(2223,0) scale(0.985,1) translate(-2223,0)">25-75% Vaihteluväli</text>
<rect x="2223" y="559.4" width="318" height="12.6" fill="#00ff00"/>
<text x="2223" y="620" font-size="36" transform="translate(2223,0) scale(0.985,1) translate(-2223,0)">Ennusteen alku</text>
<line x1="2223" y1="642.6" x2="2541" y2="642.6" stroke="#00ffff" stroke-width="10" stroke-dasharray="14.8,13.6"/>
<text x="2223.5" y="1140.2" font-size="36" transform="translate(2223.5,0) scale(0.985,1) translate(-2223.5,0)">18-Dec-2025 04:27 WSFS-O</text>
</svg></body></html>
